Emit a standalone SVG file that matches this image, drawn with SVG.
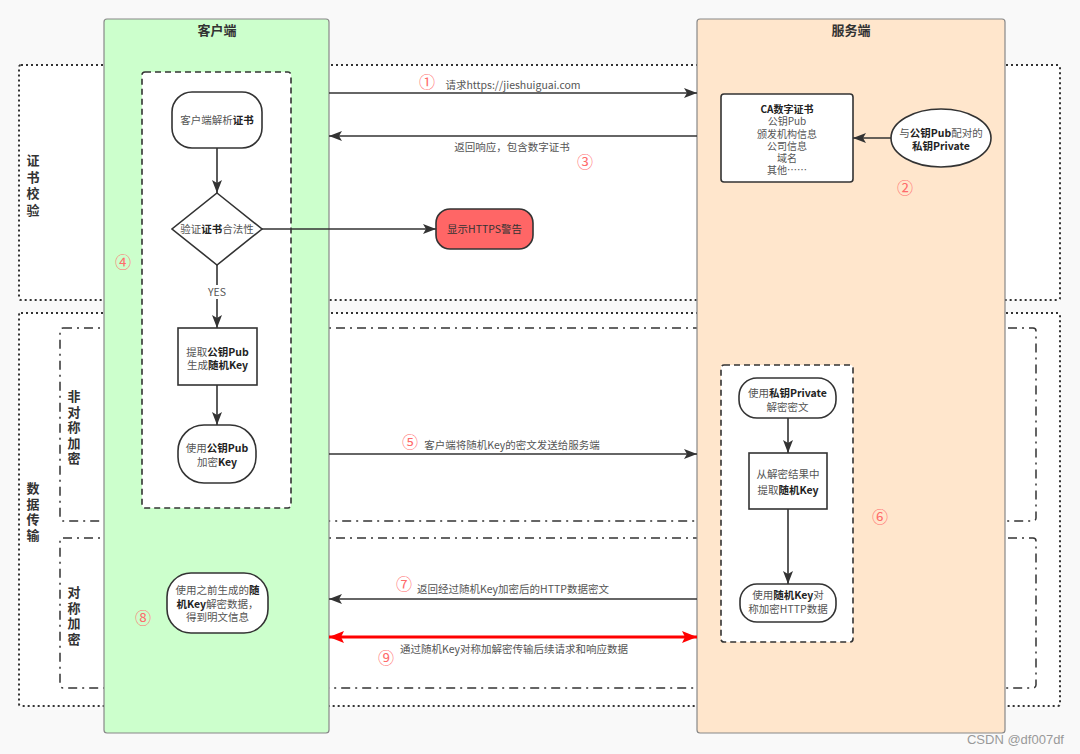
<svg xmlns="http://www.w3.org/2000/svg" width="1080" height="754" viewBox="0 0 1080 754">
<defs>
<marker id="ah" markerUnits="userSpaceOnUse" markerWidth="14" markerHeight="10" refX="13" refY="5" orient="auto"><path d="M0,0 L13,5 L0,10 L3,5 Z" fill="#333"/></marker>
<marker id="ahr" markerUnits="userSpaceOnUse" markerWidth="16" markerHeight="12" refX="15" refY="6" orient="auto-start-reverse"><path d="M0,0 L15,6 L0,12 L3,6 Z" fill="#ff0000"/></marker>
<style>
.t{font-family:"Noto Sans CJK SC","Liberation Sans",sans-serif;font-size:10.5px;fill:#555;text-anchor:middle}
.s{font-size:10px}
.b{font-weight:bold;fill:#222}
.title{font-family:"Noto Sans CJK SC","Liberation Sans",sans-serif;font-size:13px;font-weight:bold;fill:#333;text-anchor:middle}
.vl{font-family:"Noto Sans CJK SC","Liberation Sans",sans-serif;font-size:13px;font-weight:bold;fill:#333;text-anchor:middle}
.num{font-family:"Noto Sans CJK SC",sans-serif;font-size:16px;fill:#ff6b6b;text-anchor:middle}
.dot{fill:#fff;stroke:#333;stroke-width:2;stroke-dasharray:2 3}
.dd{fill:none;stroke:#333;stroke-width:1.5;stroke-dasharray:9 5 2 5}
.dash{fill:#fff;stroke:#333;stroke-width:1.6;stroke-dasharray:6 4}
.node{fill:#fff;stroke:#333;stroke-width:1.6}
.con{stroke:#333;stroke-width:1.6;fill:none;marker-end:url(#ah)}
</style>
</defs>
<rect x="0" y="0" width="1080" height="754" fill="#f9f9f9"/>

<g id="section-cert">
<rect class="dot" x="19" y="65" width="1041" height="235" rx="2"/>
<text class="vl"><tspan x="33" y="165">证</tspan><tspan x="33" y="181.5">书</tspan><tspan x="33" y="198">校</tspan><tspan x="33" y="214.5">验</tspan></text>
</g>
<g id="section-data">
<rect class="dot" x="19" y="313" width="1041" height="393" rx="2"/>
<text class="vl"><tspan x="33" y="493">数</tspan><tspan x="33" y="508.5">据</tspan><tspan x="33" y="524">传</tspan><tspan x="33" y="539.5">输</tspan></text>
</g>
<g id="section-asym">
<rect class="dd" x="60" y="328" width="976" height="193" rx="3"/>
<text class="vl"><tspan x="74" y="401">非</tspan><tspan x="74" y="416.5">对</tspan><tspan x="74" y="432">称</tspan><tspan x="74" y="447.5">加</tspan><tspan x="74" y="463">密</tspan></text>
</g>
<g id="section-sym">
<rect class="dd" x="60" y="538" width="976" height="150" rx="3"/>
<text class="vl"><tspan x="74" y="597">对</tspan><tspan x="74" y="612.5">称</tspan><tspan x="74" y="628">加</tspan><tspan x="74" y="643.5">密</tspan></text>
</g>

<g id="client-lane">
<rect x="104" y="19" width="225" height="714" rx="3" fill="#ccffcc" stroke="#888" stroke-width="1.2"/>
<text class="title" x="217" y="35">客户端</text>
</g>
<g id="server-lane">
<rect x="697" y="19" width="308" height="714" rx="3" fill="#ffe6cc" stroke="#888" stroke-width="1.2"/>
<text class="title" x="851" y="35">服务端</text>
</g>

<g id="client-group"><rect class="dash" x="142" y="72" width="149" height="436" rx="3"/></g>
<g id="server-group"><rect class="dash" x="721" y="365" width="132" height="277" rx="3"/></g>

<g id="connectors">
<line class="con" x1="217" y1="148" x2="217" y2="193"/>
<line class="con" x1="217" y1="265" x2="217" y2="328"/>
<line class="con" x1="217" y1="385" x2="217" y2="425"/>
<line class="con" x1="262" y1="229" x2="436" y2="229"/>
<line class="con" x1="329" y1="93" x2="697" y2="93"/>
<line class="con" x1="697" y1="136" x2="329" y2="136"/>
<line class="con" x1="891" y1="138" x2="853" y2="138"/>
<line class="con" x1="329" y1="454" x2="697" y2="454"/>
<line class="con" x1="788" y1="418" x2="788" y2="453"/>
<line class="con" x1="788" y1="509" x2="788" y2="584"/>
<line class="con" x1="697" y1="599" x2="329" y2="599"/>
<line x1="329" y1="637" x2="697" y2="637" stroke="#ff0000" stroke-width="3" marker-start="url(#ahr)" marker-end="url(#ahr)"/>
<rect x="205" y="285" width="24" height="14" fill="#fff"/>
<text class="t" x="217" y="296">YES</text>
<text class="t" x="513" y="89">请求https://jieshuiguai.com</text>
<text class="num" x="427" y="88">①</text>
<text class="t" x="512" y="151">返回响应，包含数字证书</text>
<text class="num" x="585" y="168">③</text>
<text class="t" x="512" y="449">客户端将随机Key的密文发送给服务端</text>
<text class="num" x="410" y="448">⑤</text>
<text class="t" x="513" y="593">返回经过随机Key加密后的HTTP数据密文</text>
<text class="num" x="404" y="590">⑦</text>
<text class="t" x="514" y="653">通过随机Key对称加解密传输后续请求和响应数据</text>
<text class="num" x="386" y="664">⑨</text>
</g>

<g id="n-parse">
<rect class="node" x="172" y="92" width="90" height="56" rx="20"/>
<text class="t" x="217" y="124">客户端解析<tspan class="b">证书</tspan></text>
</g>
<g id="n-verify">
<polygon class="node" points="217,193 262,229 217,265 172,229"/>
<text class="t" x="217" y="233">验证<tspan class="b">证书</tspan>合法性</text>
</g>
<g id="n-warning">
<rect x="436" y="209" width="97" height="40" rx="14" fill="#ff6666" stroke="#333" stroke-width="1.6"/>
<text class="t" x="484.5" y="233" style="fill:#333">显示HTTPS警告</text>
</g>
<g id="n-extract">
<rect class="node" x="178" y="328" width="79" height="57"/>
<text class="t"><tspan x="217.5" y="356">提取<tspan class="b">公钥Pub</tspan></tspan><tspan x="217.5" y="369">生成<tspan class="b">随机Key</tspan></tspan></text>
</g>
<g id="n-encrypt">
<rect class="node" x="178" y="425" width="78" height="58" rx="26"/>
<text class="t"><tspan x="217" y="452">使用<tspan class="b">公钥Pub</tspan></tspan><tspan x="217" y="466">加密<tspan class="b">Key</tspan></tspan></text>
</g>
<g id="n-decrypt-data">
<rect class="node" x="167" y="573" width="101" height="60" rx="24"/>
<text class="t"><tspan x="217.5" y="594">使用之前生成的<tspan class="b">随</tspan></tspan><tspan x="217.5" y="608"><tspan class="b">机Key</tspan>解密数据，</tspan><tspan x="217.5" y="621">得到明文信息</tspan></text>
</g>
<text class="num" x="123" y="268">④</text>
<text class="num" x="143" y="624">⑧</text>

<g id="n-ca">
<rect class="node" x="721" y="94" width="132" height="88" rx="3"/>
<text class="t s"><tspan class="b" x="787" y="113">CA数字证书</tspan><tspan x="787" y="125">公钥Pub</tspan><tspan x="787" y="137.5">颁发机构信息</tspan><tspan x="787" y="150">公司信息</tspan><tspan x="787" y="162">域名</tspan><tspan x="787" y="174">其他……</tspan></text>
</g>
<g id="n-private">
<ellipse class="node" cx="941" cy="138" rx="50" ry="29"/>
<text class="t"><tspan x="941" y="137">与<tspan class="b">公钥Pub</tspan>配对的</tspan><tspan x="941" y="150" class="b">私钥Private</tspan></text>
</g>
<text class="num" x="905" y="194">②</text>
<g id="n-decrypt">
<rect class="node" x="739" y="378" width="97" height="40" rx="18"/>
<text class="t"><tspan x="787.5" y="397">使用<tspan class="b">私钥Private</tspan></tspan><tspan x="787.5" y="411">解密密文</tspan></text>
</g>
<g id="n-getkey">
<rect class="node" x="749" y="453" width="78" height="56"/>
<text class="t"><tspan x="788" y="478">从解密结果中</tspan><tspan x="788" y="494">提取<tspan class="b">随机Key</tspan></tspan></text>
</g>
<g id="n-symenc">
<rect class="node" x="740" y="584" width="96" height="38" rx="17"/>
<text class="t"><tspan x="788" y="599">使用<tspan class="b">随机Key</tspan>对</tspan><tspan x="788" y="613">称加密HTTP数据</tspan></text>
</g>
<text class="num" x="880" y="523">⑥</text>

<text x="1064" y="744" font-family="Liberation Sans, sans-serif" font-size="13" fill="#999" text-anchor="end">CSDN @df007df</text>
</svg>
